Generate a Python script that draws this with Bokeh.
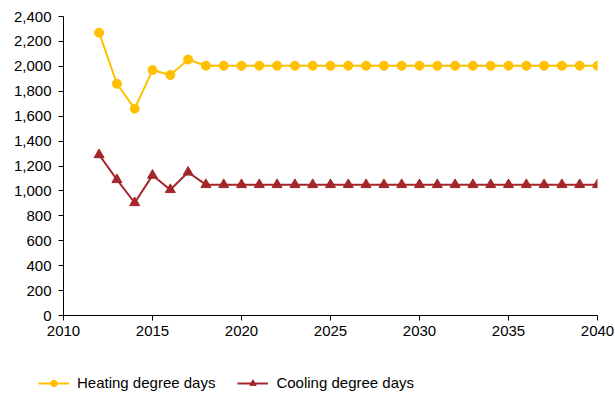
from bokeh.plotting import figure
from bokeh.layouts import column, row
from bokeh.models import Range1d, SingleIntervalTicker, NumeralTickFormatter, Legend, LegendItem
from bokeh.embed import file_html
from bokeh.resources import INLINE

years = list(range(2012, 2041))
heating = [2270, 1860, 1660, 1970, 1930, 2055] + [2005] * 23
cooling = [1290, 1090, 905, 1125, 1010, 1150] + [1050] * 23
labels = ["Heating degree days", "Cooling degree days"]

HEAT_C = "#FFC000"
COOL_C = "#A3262A"
FONT = "Liberation Sans"
FS = "15px"

p = figure(width=615, height=345, output_backend="svg", toolbar_location=None,
           x_range=Range1d(2010, 2040), y_range=Range1d(0, 2400),
           min_border_left=63, min_border_right=18, min_border_top=16, min_border_bottom=30)
p.outline_line_color = None
p.xgrid.visible = False
p.ygrid.visible = False

for ax in (p.xaxis[0], p.yaxis[0]):
    ax.axis_line_color = "#000000"
    ax.major_tick_line_color = "#000000"
    ax.minor_tick_line_color = None
    ax.major_tick_out = 5
    ax.major_tick_in = 0
    ax.major_label_text_font = FONT
    ax.major_label_text_font_size = FS
    ax.major_label_text_color = "#000000"
p.yaxis.major_label_standoff = 7
p.xaxis.major_label_standoff = 5

p.xaxis.ticker = SingleIntervalTicker(interval=5)
p.yaxis.ticker = SingleIntervalTicker(interval=200)
p.yaxis.formatter = NumeralTickFormatter(format="0,0")

p.line(years, heating, line_color=HEAT_C, line_width=2)
p.scatter(years, heating, marker="circle", size=9, fill_color=HEAT_C, line_color=HEAT_C)
p.line(years, cooling, line_color=COOL_C, line_width=2)
p.scatter(years, cooling, marker="triangle", size=10, fill_color=COOL_C, line_color=COOL_C)

# legend strip below the chart (its own figure so the legend is not clipped)
lf = figure(width=615, height=49, output_backend="svg", toolbar_location=None,
            x_range=Range1d(0, 1), y_range=Range1d(0, 1),
            x_axis_type=None, y_axis_type=None,
            min_border_left=0, min_border_right=0, min_border_top=0, min_border_bottom=0)
lf.outline_line_color = None
lf.xgrid.visible = False
lf.ygrid.visible = False
off = [5, 6]  # outside the strip's range: only the legend glyphs show
lhl = lf.line(off, off, line_color=HEAT_C, line_width=2)
lhm = lf.scatter(off, off, marker="circle", size=10, fill_color=HEAT_C, line_color=HEAT_C)
lcl = lf.line(off, off, line_color=COOL_C, line_width=2)
lcm = lf.scatter(off, off, marker="triangle", size=11, fill_color=COOL_C, line_color=COOL_C)

legend = Legend(items=[LegendItem(label=labels[0], renderers=[lhl, lhm], index=0),
                       LegendItem(label=labels[1], renderers=[lcl, lcm], index=0)],
                orientation="horizontal", location=(38, 3),
                border_line_color=None, background_fill_alpha=0,
                label_text_font=FONT, label_text_font_size=FS, label_text_color="#000000",
                glyph_width=31, glyph_height=16, label_height=16, label_standoff=8, spacing=22,
                padding=0, margin=0)
lf.add_layout(legend)

layout = column(p, row(lf), spacing=0)
open("out.html", "w").write(file_html(layout, INLINE))
